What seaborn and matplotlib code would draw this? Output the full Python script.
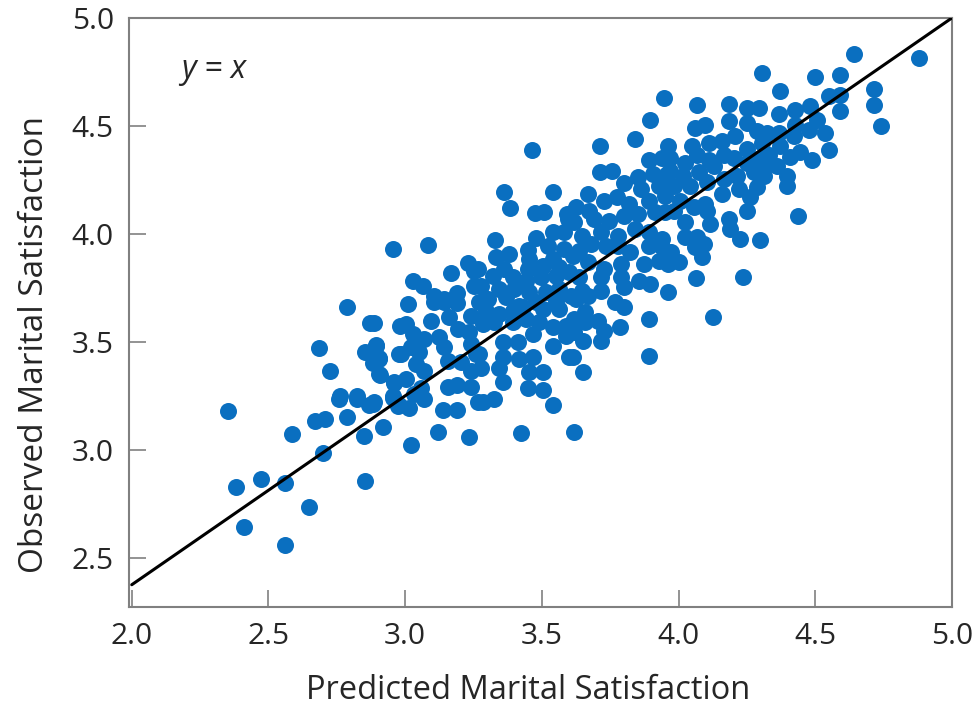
import matplotlib
matplotlib.use("Agg")
import matplotlib.pyplot as plt
import seaborn as sns
import pandas as pd

# predicted vs observed marital satisfaction
predicted = [
    2.352, 2.670, 2.707, 2.788, 2.758, 2.824, 2.868, 2.586, 2.850, 2.700,
    2.473, 2.560, 2.381, 2.853, 2.648, 2.410, 2.560,
    2.788, 2.872, 2.685, 2.894, 2.853, 2.905, 2.883, 2.978, 2.982, 2.725,
    2.908, 2.960, 2.762, 2.824, 2.883, 2.956, 2.974, 2.919,
    3.011, 3.106, 3.143, 3.190, 2.886, 3.004, 3.095, 3.161, 3.242, 3.194,
    3.029, 3.070, 3.125, 3.143, 3.234, 3.242, 2.894, 3.022, 2.985, 3.051,
    2.905, 3.040, 3.070, 3.158, 3.205, 3.242, 3.260, 2.905, 2.960, 3.004,
    3.059, 3.033, 3.070, 3.158, 3.190, 3.242, 2.956, 2.978, 3.015, 2.886,
    3.139, 3.190, 3.267, 3.121, 3.234, 3.022,
    2.956, 3.084, 3.231, 3.253, 3.168, 3.029, 3.066, 3.253, 3.106, 3.143,
    3.190,
    3.363, 3.542, 3.385, 3.476, 3.509, 3.593, 3.597, 3.330, 3.480, 3.542,
    3.582, 3.524, 3.582, 3.451, 3.333, 3.381, 3.267, 3.454, 3.542, 3.615,
    3.363, 3.322, 3.396, 3.451, 3.505, 3.564, 3.443, 3.498, 3.553, 3.601,
    3.278, 3.344, 3.399, 3.454, 3.516, 3.564, 3.304, 3.370, 3.480, 3.553,
    3.608, 3.418, 3.271, 3.465,
    3.297, 3.344, 3.396, 3.432, 3.505, 3.564, 3.286, 3.326, 3.396, 3.443,
    3.491, 3.542, 3.590, 3.619, 3.359, 3.414, 3.469, 3.542, 3.590, 3.271,
    3.359, 3.418, 3.469, 3.601, 3.278, 3.344, 3.454, 3.505, 3.359, 3.451,
    3.505, 3.286, 3.326, 3.542, 3.425, 3.619,
    3.945, 3.894, 3.842, 3.711, 3.963, 3.890, 3.938, 3.711, 3.755, 3.853,
    3.908, 3.956, 3.802, 3.864, 3.927, 3.670, 3.729, 3.773, 3.817, 3.890,
    3.949, 3.626, 3.674, 3.619, 3.692, 3.744, 3.802, 3.853, 3.912, 3.949,
    3.645, 3.718, 3.780, 3.839, 3.890, 3.938, 3.681, 3.736,
    3.634, 3.780, 3.821, 3.890, 3.938, 3.875, 3.927, 3.963, 3.670, 3.729,
    3.791, 3.634, 3.718, 3.791, 3.857, 3.894, 3.645, 3.718, 3.802, 3.626,
    3.670, 3.766, 3.802, 3.963, 3.656, 3.656, 3.707, 3.729, 3.784, 3.890,
    3.619, 3.652, 3.718, 3.890, 3.615, 3.652,
    4.066, 4.183, 4.249, 4.293, 4.059, 4.095, 4.183, 4.249, 4.205, 4.286,
    4.048, 4.110, 4.158, 4.249, 4.304, 3.967, 4.022, 4.066, 4.110, 4.165,
    4.201, 4.249, 4.297, 3.967, 4.018, 4.073, 4.128, 4.212, 4.275, 3.982,
    4.040, 4.103, 4.165, 4.220, 4.286, 4.311, 4.004, 4.095, 4.158, 4.260,
    3.982, 4.055, 4.103, 4.183, 4.249, 4.022, 4.114, 4.187, 4.223, 4.297,
    4.022, 4.066, 4.092, 3.974, 4.000, 4.059, 4.084, 4.062, 4.234, 4.125,
    4.641, 4.879, 4.304, 4.498, 4.590, 4.370, 4.549, 4.590, 4.714, 4.714,
    4.366, 4.425, 4.480, 4.590, 4.505, 4.740, 4.425, 4.322, 4.366, 4.421,
    4.476, 4.535, 4.370, 4.549, 4.330, 4.407, 4.443, 4.487, 4.315, 4.359,
    4.396, 4.396, 4.436,
]
observed = [
    3.181, 3.135, 3.144, 3.153, 3.233, 3.233, 3.209, 3.074, 3.065, 2.986,
    2.865, 2.847, 2.828, 2.856, 2.735, 2.642, 2.558,
    3.660, 3.586, 3.470, 3.484, 3.451, 3.423, 3.400, 3.442, 3.572, 3.363,
    3.344, 3.307, 3.247, 3.251, 3.214, 3.242, 3.205, 3.107,
    3.674, 3.684, 3.684, 3.679, 3.586, 3.581, 3.595, 3.614, 3.619, 3.558,
    3.535, 3.512, 3.521, 3.474, 3.544, 3.488, 3.479, 3.474, 3.442, 3.451,
    3.419, 3.395, 3.363, 3.409, 3.405, 3.363, 3.442, 3.349, 3.312, 3.326,
    3.288, 3.256, 3.233, 3.293, 3.298, 3.293, 3.247, 3.209, 3.195, 3.219,
    3.186, 3.186, 3.219, 3.084, 3.061, 3.023,
    3.930, 3.949, 3.865, 3.828, 3.819, 3.781, 3.758, 3.758, 3.712, 3.698,
    3.726,
    4.195, 4.195, 4.121, 4.098, 4.102, 4.093, 4.070, 3.972, 3.981, 4.009,
    4.009, 3.944, 3.930, 3.926, 3.893, 3.907, 3.837, 3.884, 3.884, 3.898,
    3.837, 3.805, 3.800, 3.837, 3.851, 3.847, 3.781, 3.800, 3.805, 3.823,
    3.758, 3.744, 3.744, 3.730, 3.730, 3.744, 3.698, 3.707, 3.684, 3.688,
    3.712, 3.665, 3.684, 4.386,
    3.642, 3.628, 3.642, 3.660, 3.651, 3.651, 3.581, 3.591, 3.591, 3.605,
    3.591, 3.567, 3.572, 3.605, 3.498, 3.498, 3.535, 3.479, 3.526, 3.442,
    3.428, 3.419, 3.428, 3.428, 3.381, 3.381, 3.358, 3.358, 3.312, 3.288,
    3.279, 3.219, 3.233, 3.209, 3.079, 3.084,
    4.628, 4.526, 4.437, 4.405, 4.409, 4.340, 4.349, 4.288, 4.293, 4.265,
    4.279, 4.279, 4.237, 4.209, 4.223, 4.186, 4.154, 4.172, 4.140, 4.154,
    4.177, 4.126, 4.107, 4.056, 4.070, 4.060, 4.084, 4.093, 4.102, 4.102,
    3.991, 4.009, 3.991, 4.023, 4.009, 3.977, 3.953, 3.944,
    3.921, 3.944, 3.916, 3.944, 3.940, 3.860, 3.874, 3.860, 3.870, 3.837,
    3.860, 3.800, 3.800, 3.800, 3.781, 3.767, 3.735, 3.735, 3.754, 3.698,
    3.712, 3.684, 3.661, 3.730, 3.637, 3.591, 3.595, 3.549, 3.567, 3.605,
    3.544, 3.502, 3.502, 3.433, 3.428, 3.358,
    4.595, 4.600, 4.581, 4.581, 4.488, 4.502, 4.521, 4.512, 4.451, 4.474,
    4.409, 4.419, 4.428, 4.395, 4.419, 4.349, 4.326, 4.363, 4.340, 4.363,
    4.349, 4.326, 4.349, 4.293, 4.270, 4.288, 4.312, 4.270, 4.288, 4.223,
    4.223, 4.242, 4.256, 4.209, 4.219, 4.270, 4.154, 4.140, 4.186, 4.172,
    4.107, 4.126, 4.107, 4.070, 4.107, 4.056, 4.047, 4.023, 3.977, 3.972,
    3.986, 3.986, 3.953, 3.916, 3.870, 3.940, 3.893, 3.795, 3.800, 3.614,
    4.833, 4.814, 4.744, 4.726, 4.735, 4.660, 4.637, 4.642, 4.670, 4.595,
    4.553, 4.572, 4.591, 4.567, 4.526, 4.498, 4.502, 4.465, 4.465, 4.451,
    4.479, 4.465, 4.409, 4.386, 4.363, 4.358, 4.381, 4.344, 4.316, 4.312,
    4.270, 4.223, 4.084,
]

# reference line as drawn in the figure
line_x = [2.0, 5.0]
line_y = [2.375, 5.0]

x_ticks = [2.0, 2.5, 3.0, 3.5, 4.0, 4.5, 5.0]
y_ticks = [2.5, 3.0, 3.5, 4.0, 4.5, 5.0]

df = pd.DataFrame({"predicted": predicted, "observed": observed})

sns.set_theme(style="ticks")
plt.rcParams['font.family'] = ['Open Sans', 'DejaVu Sans']

fig = plt.figure(figsize=(9.79, 7.13), dpi=100)
ax = fig.add_axes([0.1318, 0.1487, 0.8406, 0.8262])

sns.scatterplot(data=df, x="predicted", y="observed", ax=ax,
                color="#0a6fc0", s=150, linewidth=0, alpha=1, zorder=2)
ax.plot(line_x, line_y, color="black", lw=2.2, zorder=3)

ax.text(2.18, 4.76, "y = x", fontsize=23, style="italic", va="center")

ax.set_xlim(1.99, 5.0)
ax.set_ylim(2.272, 5.0)
ax.set_xticks(x_ticks)
ax.set_yticks(y_ticks)
ax.set_xticklabels([f"{t:.1f}" for t in x_ticks])
ax.set_yticklabels([f"{t:.1f}" for t in y_ticks])
ax.tick_params(direction="in", length=12, width=1.2, color="#808080",
               labelsize=21.5, pad=11)
for sp in ax.spines.values():
    sp.set_color("#808080")
    sp.set_linewidth(1.5)

ax.set_xlabel("Predicted Marital Satisfaction", fontsize=23.5)
ax.set_ylabel("Observed Marital Satisfaction", fontsize=24)
ax.xaxis.set_label_coords(0.485, -0.113)
ax.yaxis.set_label_coords(-0.095, 0.445)

fig.savefig("out.png", dpi=100)
